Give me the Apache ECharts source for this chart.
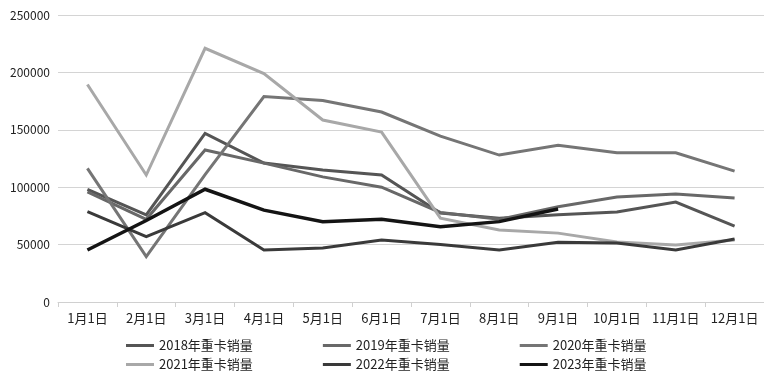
<!DOCTYPE html>
<html>
<head>
<meta charset="utf-8">
<script src="https://cdn.jsdelivr.net/npm/echarts@6/dist/echarts.min.js"></script>
<style>
  html, body { margin: 0; padding: 0; background: #fff; }
  #chart { width: 764px; height: 378px; }
</style>
</head>
<body>
<div id="chart"></div>
<script>
const months = ['1月1日', '2月1日', '3月1日', '4月1日', '5月1日', '6月1日', '7月1日', '8月1日', '9月1日', '10月1日', '11月1日', '12月1日'];
const names = ['2018年重卡销量', '2019年重卡销量', '2020年重卡销量', '2021年重卡销量', '2022年重卡销量', '2023年重卡销量'];
const sales2018 = [98000, 75800, 146900, 121000, 115000, 110600, 77500, 73000, 76000, 78500, 87000, 66000];
const sales2019 = [96000, 72000, 132400, 121000, 109000, 100000, 78000, 72000, 83000, 91500, 94000, 90500];
const sales2020 = [116400, 39500, 111000, 179000, 175500, 165500, 144500, 128000, 136500, 130000, 130000, 114000];
const sales2021 = [189500, 110600, 221000, 199000, 158500, 148000, 73000, 62700, 60000, 52300, 49600, 54000];
const sales2022 = [78700, 56900, 77800, 45300, 47000, 54000, 50000, 45300, 52000, 51400, 45300, 54900];
const sales2023 = [45300, 71000, 98200, 80000, 70000, 72000, 65600, 70000, 81000];

const allData = [sales2018, sales2019, sales2020, sales2021, sales2022, sales2023];
const colors = ['#555555', '#686868', '#757575', '#a8a8a8', '#3a3a3a', '#141414'];
const widths = [3, 3, 3, 3, 3, 3.5];
const font = '"Noto Sans CJK SC", "Noto Sans", sans-serif';

const chart = echarts.init(document.getElementById('chart'));

const legendBase = {
    left: 121,
    itemGap: 70,
    itemWidth: 28,
    itemHeight: 3,
    icon: 'rect',
    textStyle: { fontFamily: font, fontSize: 13, color: '#222' }
};

chart.setOption({
    animation: false,
    color: colors,
    textStyle: { fontFamily: font },
    grid: { left: 58, top: 15, width: 708, height: 287, containLabel: false },
    legend: [
        Object.assign({ top: 334, data: names.slice(0, 3) }, legendBase),
        Object.assign({ top: 353, data: names.slice(3, 6) }, legendBase)
    ],
    xAxis: {
        type: 'category',
        data: months,
        boundaryGap: true,
        axisLine: { lineStyle: { color: '#d0d0d0', width: 1 } },
        axisTick: { show: true, length: 5, lineStyle: { color: '#d0d0d0' } },
        axisLabel: { fontFamily: font, fontSize: 13, color: '#222', margin: 10, interval: 0 }
    },
    yAxis: {
        type: 'value',
        min: 0,
        max: 250000,
        interval: 50000,
        axisLine: { show: false },
        axisTick: { show: false },
        splitLine: { lineStyle: { color: '#d4d4d4', width: 1 } },
        axisLabel: {
            fontFamily: font, fontSize: 12, color: '#222', margin: 8,
            formatter: v => String(v)
        }
    },
    series: names.map((n, i) => ({
        name: n,
        type: 'line',
        data: allData[i],
        symbol: 'none',
        lineStyle: { width: widths[i], color: colors[i], join: 'miter' },
        z: 2 + i
    }))
});
</script>
</body>
</html>
